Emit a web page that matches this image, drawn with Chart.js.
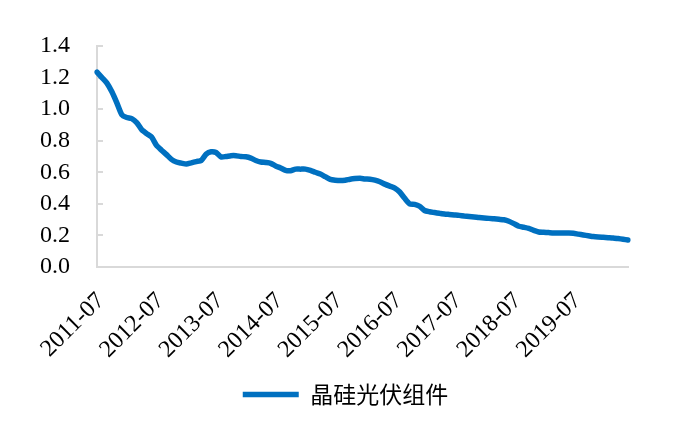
<!DOCTYPE html>
<html>
<head>
<meta charset="utf-8">
<script src="https://cdn.jsdelivr.net/npm/chart.js@4.4.1/dist/chart.umd.min.js"></script>
<style>
  html, body { margin: 0; padding: 0; background: #fff; }
  #caja { width: 691px; height: 448px; }
</style>
</head>
<body>
<div id="caja"><canvas id="grafica"></canvas></div>
<script>
// ------------------------------------------------------------
//  Datos (mensuales, 2011-07 a 2020-06)
// ------------------------------------------------------------
const SERIE = '晶硅光伏组件';
const COLOR = '#0070C0';

const MES_INICIO = [2011, 7];
const N_MESES = 108;

const ETIQUETAS_EJE = ['2011-07', '2012-07', '2013-07', '2014-07', '2015-07',
                       '2016-07', '2017-07', '2018-07', '2019-07'];

const VALORES = [
  1.235, 1.200, 1.165, 1.110, 1.040, 0.965, 0.947, 0.940, 0.915, 0.870, 0.845, 0.823,
  0.770, 0.740, 0.712, 0.682, 0.665, 0.658, 0.652, 0.660, 0.668, 0.675, 0.715, 0.730,
  0.725, 0.697, 0.700, 0.705, 0.705, 0.700, 0.698, 0.690, 0.675, 0.665, 0.662, 0.657,
  0.640, 0.627, 0.612, 0.610, 0.620, 0.620, 0.620, 0.612, 0.600, 0.589, 0.572, 0.555,
  0.550, 0.548, 0.550, 0.556, 0.560, 0.562, 0.558, 0.556, 0.550, 0.540, 0.525, 0.512,
  0.500, 0.475, 0.435, 0.400, 0.397, 0.385, 0.358, 0.350, 0.345, 0.340, 0.336, 0.333,
  0.330, 0.327, 0.323, 0.320, 0.317, 0.313, 0.310, 0.308, 0.305, 0.302, 0.299, 0.290,
  0.275, 0.258, 0.252, 0.245, 0.232, 0.222, 0.220, 0.218, 0.216, 0.215, 0.215, 0.215,
  0.214, 0.208, 0.203, 0.198, 0.193, 0.190, 0.188, 0.186, 0.184, 0.180, 0.176, 0.171
];

// etiquetas de categoría "AAAA-MM"
const MESES = [];
for (let i = 0; i < N_MESES; i++) {
  const m = MES_INICIO[1] - 1 + i;
  const a = MES_INICIO[0] + Math.floor(m / 12);
  MESES.push(a + '-' + String(m % 12 + 1).padStart(2, '0'));
}

// ------------------------------------------------------------
//  Marcas interiores del eje Y (estilo Excel)
// ------------------------------------------------------------
const marcasY = {
  id: 'marcasY',
  beforeDatasetsDraw(chart) {
    const y = chart.scales.y, ctx = chart.ctx;
    ctx.save();
    ctx.strokeStyle = '#d9d9d9';
    ctx.lineWidth = 2;
    y.ticks.forEach(t => {
      const py = Math.round(y.getPixelForValue(t.value));
      ctx.beginPath();
      ctx.moveTo(y.right, py);
      ctx.lineTo(y.right + 6, py);
      ctx.stroke();
    });
    ctx.restore();
  }
};

const fuenteEje = { family: "'Liberation Serif', 'Times New Roman', serif", size: 24 };

new Chart(document.getElementById('grafica'), {
  type: 'line',
  data: {
    labels: MESES,
    datasets: [{
      label: SERIE,
      data: VALORES,
      borderColor: COLOR,
      backgroundColor: COLOR,
      borderWidth: 5.5,
      borderCapStyle: 'round',
      borderJoinStyle: 'round',
      pointRadius: 0,
      tension: 0.2
    }]
  },
  options: {
    responsive: true,
    maintainAspectRatio: false,
    animation: false,
    layout: { padding: { top: 46, right: 0, left: 0, bottom: 32 } },
    plugins: {
      tooltip: { enabled: false },
      legend: {
        position: 'bottom',
        labels: {
          color: '#000',
          font: { family: "'Noto Sans CJK SC', sans-serif", size: 23 },
          usePointStyle: true,
          pointStyle: 'line',
          pointStyleWidth: 56,
          padding: 10
        }
      }
    },
    scales: {
      x: {
        offset: false,
        grid: { display: false, drawTicks: false },
        border: { color: '#d9d9d9', width: 2 },
        ticks: {
          autoSkip: false,
          minRotation: 45,
          maxRotation: 45,
          padding: 20,
          labelOffset: 4,
          color: '#000',
          font: fuenteEje,
          callback: (v, i) => ETIQUETAS_EJE.includes(MESES[i]) ? MESES[i] : ''
        },
        afterFit: s => { s.height = 106; }
      },
      y: {
        min: 0,
        max: 1.4,
        grid: { display: false, drawTicks: false },
        border: { color: '#d9d9d9', width: 2 },
        ticks: {
          stepSize: 0.2,
          autoSkip: false,
          padding: 27,
          color: '#000',
          font: fuenteEje,
          callback: v => Number(v).toFixed(1)
        },
        afterFit: s => { s.width = 97; }
      },
      // eje vacío a la derecha: deja el margen sin descentrar la leyenda
      yDer: {
        position: 'right',
        grid: { display: false, drawTicks: false },
        border: { display: false },
        ticks: { display: false },
        afterFit: s => { s.width = 63; }
      }
    }
  },
  plugins: [marcasY]
});
</script>
</body>
</html>
